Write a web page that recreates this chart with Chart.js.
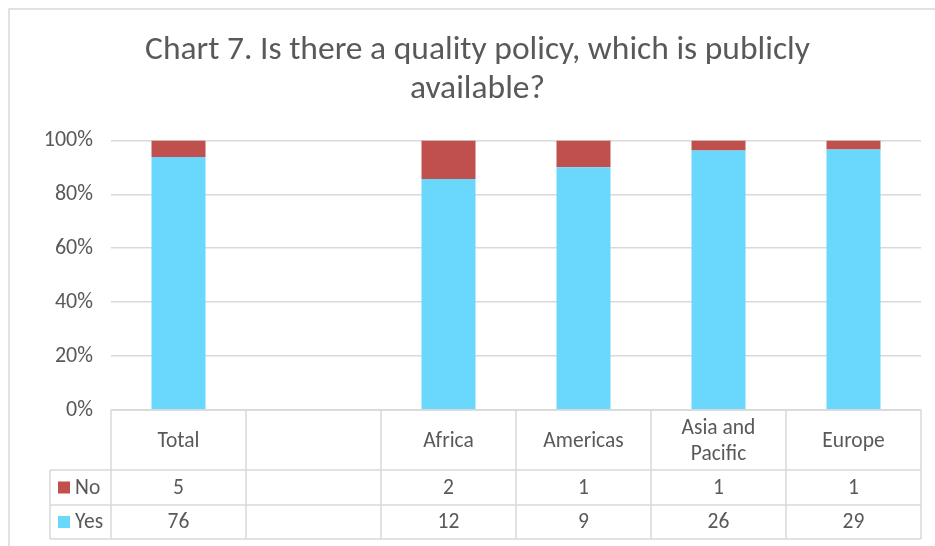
<!DOCTYPE html>
<html>
<head>
<meta charset="utf-8">
<script src="https://cdn.jsdelivr.net/npm/chart.js@4.4.1/dist/chart.umd.min.js"></script>
<style>
  html, body { margin: 0; padding: 0; background: #fff; }
  #wrap { width: 935px; height: 546px; }
</style>
</head>
<body>
<div id="wrap"><canvas id="chart" width="935" height="546"></canvas></div>
<script>
const categories = ['Total', '', 'Africa', 'Americas', ['Asia and', 'Pacific'], 'Europe'];
const noCounts = [5, null, 2, 1, 1, 1];
const yesCounts = [76, null, 12, 9, 26, 29];
const titleLines = ['Chart 7. Is there a quality policy, which is publicly', 'available?'];

const FONT = 'Carlito, Calibri, "Open Sans", sans-serif';
const TEXT = '#595959';
const GRID = '#d9d9d9';
const YES_COLOR = '#6ad7fd';
const NO_COLOR = '#c0504d';

// 100% stacked: share of each answer per category
function share(part, other) {
    return part.map((v, i) => (v == null ? null : (v / (v + other[i])) * 100));
}
const yesPct = share(yesCounts, noCounts);
const noPct = share(noCounts, yesCounts);

// draws the outer frame and the data table under the plot
const tablePlugin = {
    id: 'dataTable',
    beforeDraw(chart) {
        const ctx = chart.ctx;
        ctx.save();
        ctx.strokeStyle = GRID;
        ctx.lineWidth = 1.5;
        ctx.strokeRect(9, 9, chart.width + 20, chart.height + 20);
        ctx.restore();
    },
    afterDraw(chart) {
        const ctx = chart.ctx;
        const x = chart.scales.x;
        const area = chart.chartArea;
        const half = (x.getPixelForValue(1) - x.getPixelForValue(0)) / 2;
        const headTop = area.bottom, headBot = area.bottom + 60;
        const noBot = headBot + 35, yesBot = noBot + 34;
        const legendLeft = 50;

        ctx.save();
        ctx.strokeStyle = GRID;
        ctx.lineWidth = 1.5;
        ctx.beginPath();
        ctx.moveTo(area.left, headTop); ctx.lineTo(area.right, headTop);
        [headBot, noBot, yesBot].forEach(y => { ctx.moveTo(legendLeft, y); ctx.lineTo(area.right, y); });
        ctx.moveTo(legendLeft, headBot); ctx.lineTo(legendLeft, yesBot);
        for (let i = 0; i <= categories.length; i++) {
            const px = i < categories.length ? x.getPixelForValue(i) - half : x.getPixelForValue(i - 1) + half;
            ctx.moveTo(px, headTop); ctx.lineTo(px, yesBot);
        }
        ctx.stroke();

        ctx.fillStyle = TEXT;
        ctx.font = '21.5px ' + FONT;
        ctx.textAlign = 'center';
        ctx.textBaseline = 'middle';
        categories.forEach((c, i) => {
            const cx = x.getPixelForValue(i);
            const lines = Array.isArray(c) ? c : [c];
            const mid = (headTop + headBot) / 2 + 2;
            lines.forEach((ln, k) => {
                ctx.fillText(ln, cx, mid + (k - (lines.length - 1) / 2) * 26);
            });
            if (noCounts[i] != null) ctx.fillText(String(noCounts[i]), cx, (headBot + noBot) / 2 + 1);
            if (yesCounts[i] != null) ctx.fillText(String(yesCounts[i]), cx, (noBot + yesBot) / 2 + 1);
        });

        // legend keys
        ctx.textAlign = 'left';
        [[NO_COLOR, 'No', headBot, noBot], [YES_COLOR, 'Yes', noBot, yesBot]].forEach(([col, label, t, b]) => {
            const my = (t + b) / 2;
            ctx.fillStyle = col;
            ctx.fillRect(58, my - 6, 12, 12);
            ctx.fillStyle = TEXT;
            ctx.fillText(label, 75, my + 1);
        });
        ctx.restore();
    }
};

new Chart(document.getElementById('chart'), {
    type: 'bar',
    data: {
        labels: categories,
        datasets: [
            { label: 'Yes', data: yesPct, backgroundColor: YES_COLOR, categoryPercentage: 1, barPercentage: 0.4 },
            { label: 'No', data: noPct, backgroundColor: NO_COLOR, categoryPercentage: 1, barPercentage: 0.4 }
        ]
    },
    options: {
        responsive: false,
        animation: false,
        layout: { padding: { left: 34, right: 14, top: 0, bottom: 136 } },
        plugins: {
            legend: { display: false },
            tooltip: { enabled: false },
            title: {
                display: true,
                text: titleLines,
                color: TEXT,
                font: { family: FONT, size: 33.5, weight: 'normal', lineHeight: 1.17 },
                padding: { top: 31, bottom: 31 }
            }
        },
        scales: {
            x: { stacked: true, display: false },
            y: {
                stacked: true,
                min: 0,
                max: 100,
                afterFit(scale) { scale.width = 77; },
                border: { display: false },
                grid: { color: GRID, lineWidth: 1.5, drawTicks: false },
                ticks: {
                    stepSize: 20,
                    padding: 18,
                    color: TEXT,
                    font: { family: FONT, size: 22 },
                    callback: v => v + '%'
                }
            }
        }
    },
    plugins: [tablePlugin]
});
</script>
</body>
</html>
